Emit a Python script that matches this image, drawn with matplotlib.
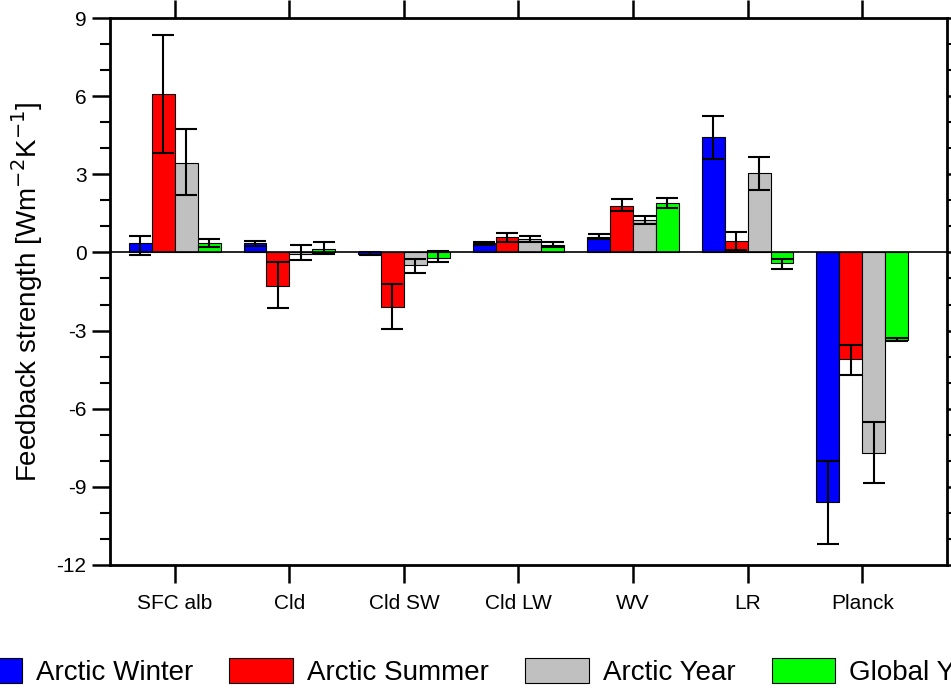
import numpy as np
import matplotlib
matplotlib.use("Agg")
import matplotlib.pyplot as plt
from matplotlib.ticker import MultipleLocator

plt.rcParams["font.family"] = ["Liberation Sans", "DejaVu Sans"]
plt.rcParams["axes.unicode_minus"] = False

categories = ["SFC alb", "Cld", "Cld SW", "Cld LW", "WV", "LR", "Planck"]
series = ["Arctic Winter", "Arctic Summer", "Arctic Year", "Global Year"]
colors = ["#0000ff", "#ff0000", "#c0c0c0", "#00ff00"]

values = {
    "Arctic Winter": [0.38, 0.35, -0.05, 0.35, 0.6, 4.45, -9.6],
    "Arctic Summer": [6.1, -1.3, -2.1, 0.6, 1.8, 0.45, -4.1],
    "Arctic Year":   [3.45, -0.05, -0.5, 0.5, 1.25, 3.05, -7.7],
    "Global Year":   [0.38, 0.15, -0.2, 0.3, 1.9, -0.4, -3.35],
}
err_low = {
    "Arctic Winter": [-0.1, 0.25, -0.1, 0.3, 0.5, 3.6, -11.2],
    "Arctic Summer": [3.8, -2.15, -2.95, 0.4, 1.6, 0.1, -4.7],
    "Arctic Year":   [2.2, -0.3, -0.8, 0.4, 1.1, 2.4, -8.85],
    "Global Year":   [0.2, -0.05, -0.35, 0.2, 1.7, -0.65, -3.4],
}
err_high = {
    "Arctic Winter": [0.65, 0.45, 0.0, 0.4, 0.72, 5.25, -8.0],
    "Arctic Summer": [8.35, -0.35, -1.2, 0.75, 2.05, 0.8, -3.55],
    "Arctic Year":   [4.75, 0.3, -0.25, 0.65, 1.4, 3.65, -6.5],
    "Global Year":   [0.5, 0.42, 0.05, 0.4, 2.1, -0.25, -3.3],
}

fig = plt.figure(figsize=(9.51, 6.94), dpi=100)
ax = fig.add_axes([0.1157, 0.1859, 0.8801, 0.7881])

x = np.arange(1, len(categories) + 1)
w = 0.2
for i, s in enumerate(series):
    xs = x + (i - 1.5) * w
    v = np.array(values[s])
    lo = np.array(err_low[s])
    hi = np.array(err_high[s])
    ax.bar(xs, v, width=w, color=colors[i], edgecolor="black", linewidth=0.8,
           label=s, zorder=2)
    ax.errorbar(xs, (lo + hi) / 2, yerr=(hi - lo) / 2, fmt="none", ecolor="black",
                elinewidth=1.5, capsize=8, capthick=1.5, zorder=3)

ax.axhline(0, color="black", linewidth=1.2, zorder=4)
ax.set_xlim(0.435, 7.74)
ax.set_ylim(-12, 9)
ax.set_xticks(x)
ax.set_xticklabels(categories, fontsize=15)
ax.yaxis.set_major_locator(MultipleLocator(3))
ax.yaxis.set_minor_locator(MultipleLocator(1))
ax.tick_params(axis="y", which="major", direction="out", length=13, width=1.8,
               labelsize=15, right=True, pad=4)
ax.tick_params(axis="y", which="minor", direction="out", length=7, width=1.5, right=True)
ax.tick_params(axis="x", which="major", direction="out", length=13, width=1.8,
               top=True, pad=8)
for sp in ax.spines.values():
    sp.set_linewidth(2)
ax.set_ylabel("Feedback strength [Wm$^{\\mathsf{-2}}$K$^{\\mathsf{-1}}$]", fontsize=20, labelpad=8)

fig.legend(loc="lower center", bbox_to_anchor=(0.5, -0.025), ncol=4, frameon=False,
           fontsize=20, handlelength=2.3, handleheight=1.0, columnspacing=1.3,
           handletextpad=0.5)

fig.savefig("out.png", dpi=100)
